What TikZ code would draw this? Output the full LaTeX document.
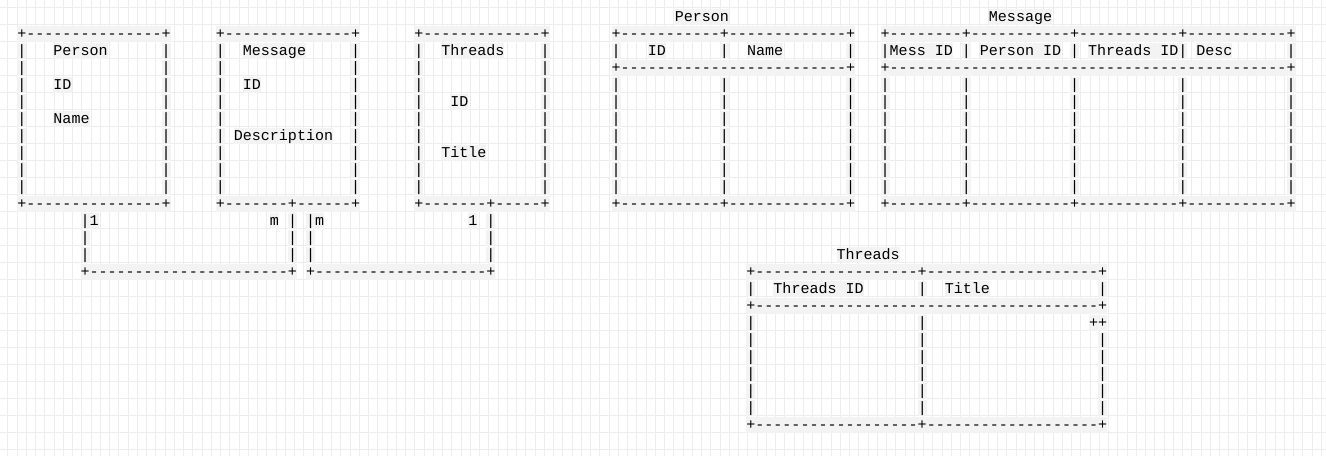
\documentclass[tikz,border=0pt]{standalone}
\usepackage{fontspec}
\newfontfamily\monofam{Liberation Mono}
\definecolor{gridgray}{HTML}{EDEDED}
\definecolor{bandgray}{HTML}{F3F3F3}

% a run of n dashes, kept apart so no ligature forms
\newcommand\dsh[1]{\count255=#1 \loop\ifnum\count255>0 -\kern0pt\advance\count255 -1 \repeat}

\tikzset{
  asc/.style={font=\monofam\fontsize{15.03pt}{17pt}\selectfont, anchor=base west,
    inner sep=0pt, text height=12pt, text depth=3.5pt, fill=bandgray, text=black},
  gridline/.style={draw=gridgray, line width=1pt}
}

\begin{document}
\begin{tikzpicture}[x=1pt,y=-1pt]
	\useasboundingbox (0,0) rectangle (1326,456);
	\fill[white] (0,0) rectangle (1326,456);
	\begin{scope}
		\clip (0,0) rectangle (1326,456);
		\foreach \i in {0,...,142}
			\draw[gridline] ({7.9+9.25*\i},0) -- ++(0,456);
		\foreach \j in {0,...,26}
			\draw[gridline] (0,{7.5+17*\j}) -- ++(1326,0);
	\end{scope}

	% ascii boxes on the left
	\begin{scope}[shift={(17.2,38)},x=9.02pt,y=-17pt]
		\node[asc] (pTop) at (0,0)  {+\dsh{15}+};
		\node[asc] (mTop) at (22,0) {+\dsh{14}+};
		\node[asc] (tTop) at (44,0) {+\dsh{13}+};
		\foreach \c in {0,16,22,37,44,58}
			\foreach \r in {1,...,9}
				\node[asc] (lbar-\c-\r) at (\c,\r) {|};
		\node[asc] (pName)  at (4,1)  {Person};
		\node[asc] (pId)    at (4,3)  {ID};
		\node[asc] (pNm)    at (4,5)  {Name};
		\node[asc] (mName)  at (25,1) {Message};
		\node[asc] (mId)    at (25,3) {ID};
		\node[asc] (mDesc)  at (24,6) {Description};
		\node[asc] (tName)  at (47,1) {Threads};
		\node[asc] (tId)    at (48,4) {ID};
		\node[asc] (tTitle) at (47,7) {Title};
		\node[asc] (pBot) at (0,10)  {+\dsh{15}+};
		\node[asc] (mBot) at (22,10) {+\dsh{7}+\dsh{6}+};
		\node[asc] (tBot) at (44,10) {+\dsh{7}+\dsh{5}+};

		% relation lines
		\node[asc] (one1)  at (7,11)  {|1};
		\node[asc] (many1) at (28,11) {m};
		\node[asc] (bar1)  at (30,11) {|};
		\node[asc] (many2) at (32,11) {|m};
		\node[asc] (one2)  at (50,11) {1};
		\node[asc] (bar2)  at (52,11) {|};
		\foreach \c in {7,30,32,52}
			\foreach \r in {12,13}
				\node[asc] (rbar-\c-\r) at (\c,\r) {|};
		\node[asc] (relA) at (7,14)  {+\dsh{22}+};
		\node[asc] (relB) at (32,14) {+\dsh{19}+};
	\end{scope}

	% Person table
	\begin{scope}[shift={(611.5,21)},x=9.02pt,y=-17pt]
		\node[asc] (ptTitle) at (7,0) {Person};
		\node[asc] (ptTop) at (0,1) {+\dsh{11}+\dsh{13}+};
		\foreach \c in {0,12,26}
			\node[asc] (pthead-\c) at (\c,2) {|};
		\node[asc] (ptId)   at (4,2)  {ID};
		\node[asc] (ptName) at (15,2) {Name};
		\node[asc] (ptSep) at (0,3) {+\dsh{25}+};
		\foreach \c in {0,12,26}
			\foreach \r in {4,...,10}
				\node[asc] (pbar-\c-\r) at (\c,\r) {|};
		\node[asc] (ptBot) at (0,11) {+\dsh{11}+\dsh{13}+};
	\end{scope}

	% Message table
	\begin{scope}[shift={(880.5,21)},x=9.02pt,y=-17pt]
		\node[asc] (mtTitle) at (12,0) {Message};
		\node[asc] (mtTop) at (0,1) {+\dsh{8}+\dsh{11}+\dsh{11}+\dsh{11}+};
		\node[asc] (mtMess)  at (0,2)  {|Mess ID};
		\foreach \c in {9,21,33,45}
			\node[asc] (mthead-\c) at (\c,2) {|};
		\node[asc] (mtPerson)  at (11,2) {Person ID};
		\node[asc] (mtThreads) at (23,2) {Threads ID};
		\node[asc] (mtDesc)    at (35,2) {Desc};
		\node[asc] (mtSep) at (0,3) {+\dsh{44}+};
		\foreach \c in {0,9,21,33,45}
			\foreach \r in {4,...,10}
				\node[asc] (mbar-\c-\r) at (\c,\r) {|};
		\node[asc] (mtBot) at (0,11) {+\dsh{8}+\dsh{11}+\dsh{11}+\dsh{11}+};
	\end{scope}

	% Threads table
	\begin{scope}[shift={(746.2,259)},x=9.02pt,y=-17pt]
		\node[asc] (ttTitle) at (10,0) {Threads};
		\node[asc] (ttTop) at (0,1) {+\dsh{18}+\dsh{19}+};
		\foreach \c in {0,19,39}
			\node[asc] (tthead-\c) at (\c,2) {|};
		\node[asc] (ttId)    at (3,2)  {Threads ID};
		\node[asc] (ttTitle2) at (22,2) {Title};
		\node[asc] (ttSep) at (0,3) {+\dsh{38}+};
		\node[asc] (tbar-0-4)  at (0,4)  {|};
		\node[asc] (tbar-19-4) at (19,4) {|};
		\node[asc] (ttPlus)    at (38,4) {++};
		\foreach \c in {0,19,39}
			\foreach \r in {5,...,9}
				\node[asc] (tbar-\c-\r) at (\c,\r) {|};
		\node[asc] (ttBot) at (0,10) {+\dsh{18}+\dsh{19}+};
	\end{scope}
\end{tikzpicture}
\end{document}
